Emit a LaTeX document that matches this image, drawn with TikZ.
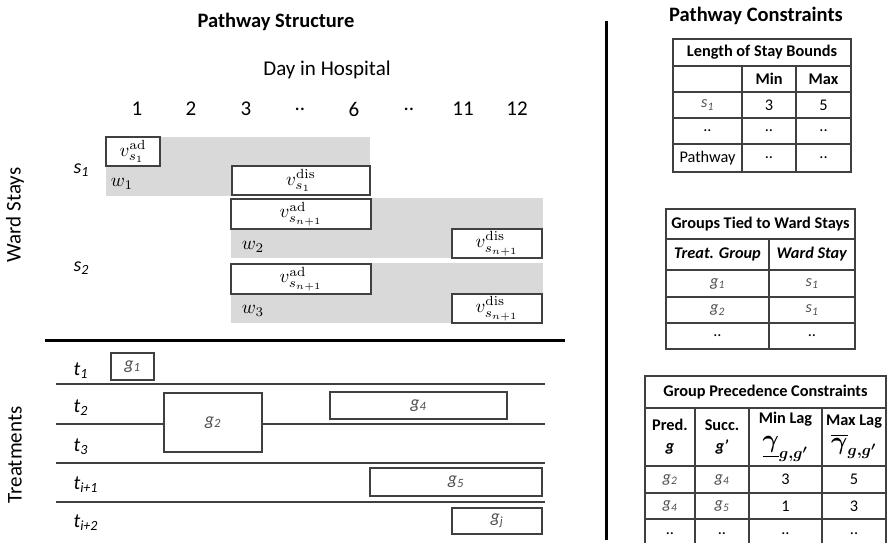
\documentclass[tikz,border=0pt]{standalone}
\usepackage{amsmath,bm}
\usepackage[no-math]{fontspec}
\setmainfont{Carlito}
\definecolor{bandgray}{HTML}{D9D9D9}
\definecolor{edgegray}{HTML}{404040}
\definecolor{labgray}{HTML}{505050}
\newcommand{\itsub}[2]{\textit{#1}\textsubscript{\textit{#2}}}
\newcommand{\mlab}[2]{\scalebox{#1}{$#2$}}
\begin{document}
\begin{tikzpicture}[x=1pt, y=-1pt,
  head/.style={font=\fontsize{20.5}{24}\selectfont\bfseries},
  axis/.style={font=\fontsize{21}{24}\selectfont},
  lane/.style={font=\fontsize{20}{24}\selectfont, anchor=west},
  side/.style={font=\fontsize{21}{24}\selectfont, rotate=90},
  vbox/.style={draw=edgegray, fill=white, line width=1.3pt, inner sep=0pt},
  gbox/.style={draw=edgegray, fill=white, line width=1.3pt, inner sep=0pt, font=\fontsize{18}{20}\selectfont, text=labgray},
  cell/.style={draw=edgegray, line width=1.4pt, inner sep=0pt, align=center, font=\fontsize{16.3}{20}\selectfont},
  lanesep/.style={draw=edgegray, line width=1.3pt}]
\useasboundingbox (0,0) rectangle (887,542);
\clip (0,0) rectangle (887,542);

% left half: pathway structure
\node[head] (ptitle) at (276,22) {Pathway Structure};
\node[axis] (days) at (327,70) {Day in Hospital};
\node[axis] (d1) at (137,109) {1};
\node[axis] (d2) at (191,109) {2};
\node[axis] (d3) at (246,109) {3};
\node[axis] (d4) at (300,109) {..};
\node[axis] (d5) at (354,109) {6};
\node[axis] (d6) at (409,109) {..};
\node[axis] (d7) at (463,109) {11};
\node[axis] (d8) at (517,109) {12};

\node[side] (wards) at (15,215) {Ward Stays};
\node[side] (treats) at (15,455) {Treatments};

% ward stays
\fill[bandgray] (106,137) rectangle (370,196);
\fill[bandgray] (231,198) rectangle (543,258);
\fill[bandgray] (231,263) rectangle (543,323);
\node[lane] (s1) at (70,170) {\itsub{s}{1}};
\node[lane] (s2) at (70,268) {\itsub{s}{2}};
\node (w1) at (122,184) {\mlab{1.9}{w_1}};
\node (w2) at (253,247) {\mlab{1.9}{w_2}};
\node (w3) at (253,311) {\mlab{1.9}{w_3}};
\node[vbox, minimum width=54pt, minimum height=29pt] (ad1) at (133,151.5) {\mlab{1.9}{v_{s_1}^{\mathrm{ad}}}};
\node[vbox, minimum width=138pt, minimum height=29pt] (dis1) at (301,180.5) {\mlab{1.9}{v_{s_1}^{\mathrm{dis}}}};
\node[vbox, minimum width=140pt, minimum height=30pt] (ad2) at (301,214) {\mlab{1.9}{v_{s_{n+1}}^{\mathrm{ad}}}};
\node[vbox, minimum width=90pt, minimum height=29pt] (dis2) at (497,243.5) {\mlab{1.9}{v_{s_{n+1}}^{\mathrm{dis}}}};
\node[vbox, minimum width=140pt, minimum height=30pt] (ad3) at (301,279) {\mlab{1.9}{v_{s_{n+1}}^{\mathrm{ad}}}};
\node[vbox, minimum width=90pt, minimum height=29pt] (dis3) at (497,308.5) {\mlab{1.9}{v_{s_{n+1}}^{\mathrm{dis}}}};

\path[draw,line width=3pt] (45,340) -- (565,340);

% treatments
\path[lanesep] (56,384) -- (545,384);
\path[lanesep] (56,424) -- (545,424);
\path[lanesep] (56,463) -- (545,463);
\path[lanesep] (56,502) -- (545,502);
\node[lane] (t1) at (70,371) {\itsub{t}{1}};
\node[lane] (t2) at (70,408) {\itsub{t}{2}};
\node[lane] (t3) at (70,447) {\itsub{t}{3}};
\node[lane] (t4) at (70,485) {\itsub{t}{i+1}};
\node[lane] (t5) at (70,523) {\itsub{t}{i+2}};
\node[gbox, minimum width=43pt, minimum height=27pt] (g1) at (132.5,366.5) {\itsub{g}{1}};
\node[gbox, minimum width=98pt, minimum height=59pt] (g2) at (213,422.5) {\itsub{g}{2}};
\node[gbox, minimum width=177pt, minimum height=27pt] (g4) at (418.5,405.5) {\itsub{g}{4}};
\node[gbox, minimum width=172pt, minimum height=28pt] (g5) at (456,482) {\itsub{g}{5}};
\node[gbox, minimum width=90pt, minimum height=26pt] (gj) at (497,521) {\itsub{g}{j}};

\path[draw,line width=3pt] (606,21) -- (606,540);

% right half: pathway constraints
\node[head] (ctitle) at (756,16) {Pathway Constraints};

% length of stay bounds
\node[cell, minimum width=178pt, minimum height=27pt] (lhead) at (762,52.5) {\textbf{Length of Stay Bounds}};
\node[cell, minimum width=69pt, minimum height=26pt] (la1) at (707.5,79) {};
\node[cell, minimum width=54pt, minimum height=26pt] (lb1) at (769,79) {\textbf{Min}};
\node[cell, minimum width=55pt, minimum height=26pt] (lc1) at (823.5,79) {\textbf{Max}};
\node[cell, minimum width=69pt, minimum height=26pt, text=labgray] (la2) at (707.5,105) {\itsub{s}{1}};
\node[cell, minimum width=54pt, minimum height=26pt] (lb2) at (769,105) {3};
\node[cell, minimum width=55pt, minimum height=26pt] (lc2) at (823.5,105) {5};
\node[cell, minimum width=69pt, minimum height=26pt] (la3) at (707.5,131) {..};
\node[cell, minimum width=54pt, minimum height=26pt] (lb3) at (769,131) {..};
\node[cell, minimum width=55pt, minimum height=26pt] (lc3) at (823.5,131) {..};
\node[cell, minimum width=69pt, minimum height=28pt] (la4) at (707.5,158) {Pathway};
\node[cell, minimum width=54pt, minimum height=28pt] (lb4) at (769,158) {..};
\node[cell, minimum width=55pt, minimum height=28pt] (lc4) at (823.5,158) {..};

% groups tied to ward stays
\node[cell, minimum width=189pt, minimum height=30pt] (thead) at (760.5,224) {\textbf{Groups Tied to Ward Stays}};
\node[cell, minimum width=103pt, minimum height=31pt] (ta1) at (717.5,254.5) {\textbf{\textit{Treat. Group}}};
\node[cell, minimum width=86pt, minimum height=31pt] (tb1) at (812,254.5) {\textbf{\textit{Ward Stay}}};
\node[cell, minimum width=103pt, minimum height=27pt, text=labgray] (ta2) at (717.5,283.5) {\itsub{g}{1}};
\node[cell, minimum width=86pt, minimum height=27pt, text=labgray] (tb2) at (812,283.5) {\itsub{s}{1}};
\node[cell, minimum width=103pt, minimum height=26pt, text=labgray] (ta3) at (717.5,310) {\itsub{g}{2}};
\node[cell, minimum width=86pt, minimum height=26pt, text=labgray] (tb3) at (812,310) {\itsub{s}{1}};
\node[cell, minimum width=103pt, minimum height=26pt] (ta4) at (717.5,336) {..};
\node[cell, minimum width=86pt, minimum height=26pt] (tb4) at (812,336) {..};

% group precedence constraints
\node[cell, minimum width=241pt, minimum height=32pt] (phead) at (765.5,392) {\textbf{Group Precedence Constraints}};
\node[cell, minimum width=50pt, minimum height=58pt] (pa1) at (670,437) {\textbf{Pred.}\\[1pt] \textbf{\textit{g}}};
\node[cell, minimum width=54pt, minimum height=58pt] (pb1) at (722,437) {\textbf{Succ.}\\[1pt] \textbf{\textit{g'}}};
\node[cell, minimum width=73pt, minimum height=58pt] (pc1) at (785.5,437) {\textbf{Min Lag}\\[4pt] \mlab{1.45}{\underline{\bm{\gamma}}_{\bm{g,g'}}}};
\node[cell, minimum width=64pt, minimum height=58pt] (pd1) at (854,437) {\textbf{Max Lag}\\[4pt] \mlab{1.45}{\overline{\bm{\gamma}}_{\bm{g,g'}}}};
\node[cell, minimum width=50pt, minimum height=27pt, text=labgray] (pa2) at (670,479.5) {\itsub{g}{2}};
\node[cell, minimum width=54pt, minimum height=27pt, text=labgray] (pb2) at (722,479.5) {\itsub{g}{4}};
\node[cell, minimum width=73pt, minimum height=27pt] (pc2) at (785.5,479.5) {3};
\node[cell, minimum width=64pt, minimum height=27pt] (pd2) at (854,479.5) {5};
\node[cell, minimum width=50pt, minimum height=26pt, text=labgray] (pa3) at (670,506) {\itsub{g}{4}};
\node[cell, minimum width=54pt, minimum height=26pt, text=labgray] (pb3) at (722,506) {\itsub{g}{5}};
\node[cell, minimum width=73pt, minimum height=26pt] (pc3) at (785.5,506) {1};
\node[cell, minimum width=64pt, minimum height=26pt] (pd3) at (854,506) {3};
\node[cell, minimum width=50pt, minimum height=29pt] (pa4) at (670,533.5) {..};
\node[cell, minimum width=54pt, minimum height=29pt] (pb4) at (722,533.5) {..};
\node[cell, minimum width=73pt, minimum height=29pt] (pc4) at (785.5,533.5) {..};
\node[cell, minimum width=64pt, minimum height=29pt] (pd4) at (854,533.5) {..};
\end{tikzpicture}
\end{document}
